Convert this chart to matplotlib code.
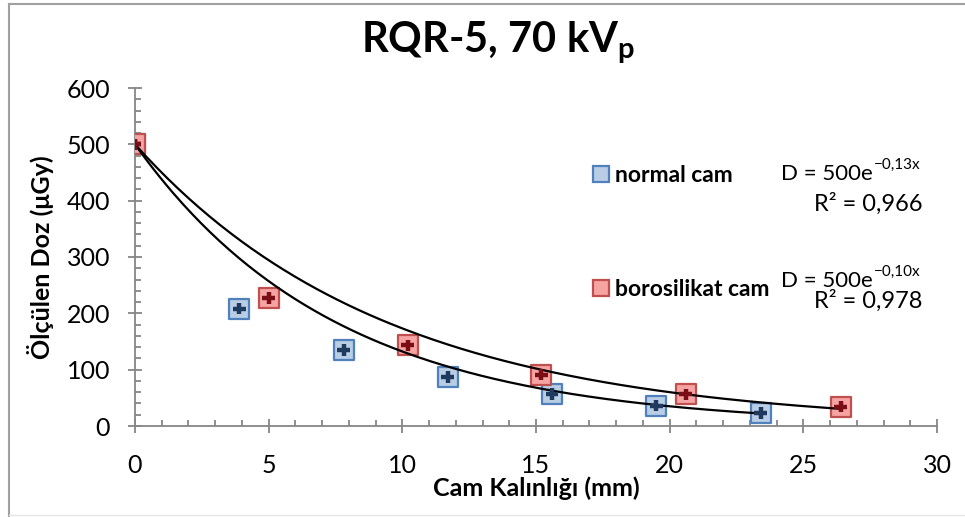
import numpy as np
import matplotlib.pyplot as plt
from matplotlib.lines import Line2D
from matplotlib.ticker import MultipleLocator

plt.rcParams['font.family'] = ['Lato', 'DejaVu Sans']
plt.rcParams['mathtext.fontset'] = 'custom'
plt.rcParams['mathtext.rm'] = 'Lato'
plt.rcParams['mathtext.bf'] = 'Lato:bold'

# olculen veriler
normal_x = [0, 3.9, 7.8, 11.7, 15.6, 19.5, 23.4]
normal_y = [500, 208, 135, 87, 57, 36, 23]
boro_x = [0, 5.0, 10.2, 15.2, 20.6, 26.4]
boro_y = [500, 227, 143, 91, 56, 34]
# trend cizgileri (D = A e^(-kx))
fit_A = [500, 500]
fit_k = [0.133, 0.106]
fit_labels = [('D = 500e', '-0,13x', 'R² = 0,966'),
              ('D = 500e', '-0,10x', 'R² = 0,978')]

fig = plt.figure(figsize=(9.65, 5.17), dpi=100)
ax = fig.add_axes([135/965, 1 - 426/517, (937 - 135)/965, (426 - 88)/517])

gray = '#868686'

# trend cizgileri
xn = np.linspace(0, max(normal_x), 200)
xb = np.linspace(0, max(boro_x), 200)
ax.plot(xn, fit_A[0] * np.exp(-fit_k[0] * xn), color='black', lw=1.6, zorder=4)
ax.plot(xb, fit_A[1] * np.exp(-fit_k[1] * xb), color='black', lw=1.6, zorder=4)

# noktalar
ax.scatter(normal_x, normal_y, marker='s', s=200, facecolor='#B9CDE5',
           edgecolor='#4F81BD', linewidth=1.6, zorder=3)
ax.scatter(boro_x, boro_y, marker='s', s=200, facecolor='#F5A3A3',
           edgecolor='#C0504D', linewidth=1.6, zorder=3)

# hata cubuklari
ax.errorbar(normal_x, normal_y, xerr=0.24, yerr=10, fmt='none',
            ecolor='#1F3A5F', elinewidth=3.2, capsize=0, zorder=5)
ax.errorbar(boro_x, boro_y, xerr=0.24, yerr=10, fmt='none',
            ecolor='#7A0E14', elinewidth=3.2, capsize=0, zorder=5)

ax.set_xlim(0, 30)
ax.set_ylim(0, 600)
ax.xaxis.set_major_locator(MultipleLocator(5))
ax.xaxis.set_minor_locator(MultipleLocator(1))
ax.yaxis.set_major_locator(MultipleLocator(100))
ax.yaxis.set_minor_locator(MultipleLocator(20))

for s in ['top', 'right']:
    ax.spines[s].set_visible(False)
for s in ['left', 'bottom']:
    ax.spines[s].set_color(gray)
    ax.spines[s].set_linewidth(1.3)

ax.tick_params(which='major', direction='inout', length=10, width=1.3,
               color=gray, labelsize=18)
ax.tick_params(which='minor', direction='in', length=4, width=1.3, color=gray)
ax.tick_params(axis='x', which='major', pad=15)
ax.tick_params(axis='y', which='major', pad=13)

ax.set_xlabel('Cam Kalınlığı (mm)', fontsize=18, fontweight='bold', labelpad=0)
ax.set_ylabel('Ölçülen Doz (μGy)', fontsize=18, fontweight='bold', labelpad=9)

fig.text(498/965, 1 - 42/517, r'RQR-5, 70 kV$_\mathbf{p}$', fontsize=30,
         fontweight='bold', ha='center', va='center')

# lejant
handles = [
    Line2D([], [], marker='s', ls='none', markersize=12, markerfacecolor='#B9CDE5',
           markeredgecolor='#4F81BD', markeredgewidth=1.6),
    Line2D([], [], marker='s', ls='none', markersize=12, markerfacecolor='#F5A3A3',
           markeredgecolor='#C0504D', markeredgewidth=1.6),
]
leg = fig.legend(handles, ['normal cam', 'borosilikat cam'], loc='upper left',
                 bbox_to_anchor=(592/965, 1 - 165/517), frameon=False,
                 prop={'size': 16.5, 'weight': 'bold'}, handlelength=0.8,
                 handletextpad=0.2, labelspacing=4.05, borderpad=0,
                 borderaxespad=0)

# denklemler
eq_y = [(174, 204), (281, 301)]
for (main, sup, r2), (y1, y2) in zip(fit_labels, eq_y):
    fig.text(873/965, 1 - y1/517, main, fontsize=16, ha='right', va='center')
    fig.text(874/965, 1 - (y1 - 9)/517, sup.replace('-', '\u2212'), fontsize=11,
             ha='left', va='center')
    fig.text(868/965, 1 - y2/517, r2, fontsize=17, ha='center', va='center')

# dis cerceve
fig.add_artist(Line2D([9/965, 9/965], [0, 1 - 4/517], color='#A0A0A0', lw=1.5))
fig.add_artist(Line2D([9/965, 1], [1 - 4/517, 1 - 4/517], color='#A0A0A0', lw=1.5))
fig.add_artist(Line2D([9/965, 1], [1 - 515/517, 1 - 515/517], color='#E6E6E6', lw=1))

fig.savefig('out.png', dpi=100)
